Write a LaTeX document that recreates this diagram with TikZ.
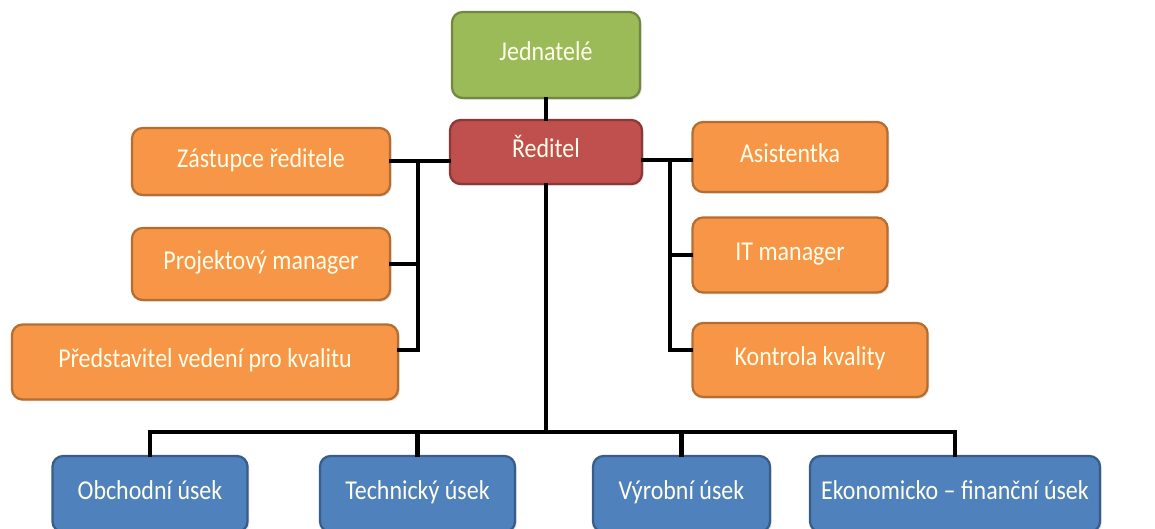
\documentclass[tikz,border=0pt]{standalone}
\usepackage{fontspec}
\setmainfont{Carlito}[FakeStretch=0.88]
\usetikzlibrary{shadows}
\definecolor{zelena}{HTML}{9BBB59}
\definecolor{zelenaokraj}{HTML}{71893F}
\definecolor{cervena}{HTML}{C0504D}
\definecolor{cervenaokraj}{HTML}{8C3836}
\definecolor{oranzova}{HTML}{F79646}
\definecolor{oranzovaokraj}{HTML}{B66D31}
\definecolor{modra}{HTML}{4F81BD}
\definecolor{modraokraj}{HTML}{385D8A}
\tikzset{
  box/.style={rounded corners=6pt, line width=1.3pt, text=white!92!yellow,
    font=\fontsize{15.5}{18}\selectfont, inner sep=2pt, text height=2ex, text depth=0.6ex,
    drop shadow={opacity=0.2, shadow xshift=1pt, shadow yshift=-1pt}},
  vedeni/.style={box, fill=zelena, draw=zelenaokraj},
  reditel/.style={box, fill=cervena, draw=cervenaokraj},
  stab/.style={box, fill=oranzova, draw=oranzovaokraj},
  usek/.style={box, fill=modra, draw=modraokraj},
  link/.style={line width=2.4pt, line cap=rect}
}
\begin{document}
\begin{tikzpicture}
    \useasboundingbox (0,0) rectangle (23.1,-10.56);

    \node[vedeni, minimum width=3.76cm, minimum height=1.72cm] (jed) at (10.92,-1.10) {Jednatelé};
    \node[reditel, minimum width=3.84cm, minimum height=1.28cm] (red) at (10.92,-3.04) {Ředitel};

    % stab vlevo
    \node[stab, minimum width=5.16cm, minimum height=1.34cm] (zast) at (5.22,-3.23) {Zástupce ředitele};
    \node[stab, minimum width=5.16cm, minimum height=1.44cm] (proj) at (5.22,-5.28) {Projektový manager};
    \node[stab, minimum width=7.72cm, minimum height=1.50cm] (pred) at (4.10,-7.24) {Představitel vedení pro kvalitu};

    % stab vpravo
    \node[stab, minimum width=3.90cm, minimum height=1.40cm] (asis) at (15.80,-3.14) {Asistentka};
    \node[stab, minimum width=3.90cm, minimum height=1.50cm] (itm) at (15.80,-5.10) {IT manager};
    \node[stab, minimum width=4.70cm, minimum height=1.48cm] (kont) at (16.20,-7.20) {Kontrola kvality};

    % useky
    \node[usek, minimum width=3.90cm, minimum height=1.52cm] (obch) at (3.00,-9.88) {Obchodní úsek};
    \node[usek, minimum width=3.90cm, minimum height=1.52cm] (tech) at (8.35,-9.88) {Technický úsek};
    \node[usek, minimum width=3.54cm, minimum height=1.52cm] (vyro) at (13.63,-9.88) {Výrobní úsek};
    \node[usek, minimum width=5.80cm, minimum height=1.52cm] (ekon) at (19.10,-9.88) {Ekonomicko -- finanční úsek};

    \coordinate (lbus) at (8.36,-7.00);
    \coordinate (rbus) at (13.40,-7.00);
    \coordinate (bus) at (10.92,-8.64);

    \draw[link] (jed) -- (red); % jednatele - reditel
    \draw[link] (red.west |- 0,-3.22) -- (zast.east |- 0,-3.22);
    \draw[link] (lbus |- 0,-3.22) -- (lbus) -- (pred.east |- lbus);
    \draw[link] (proj.east) -- (proj.east -| lbus);
    \draw[link] (red.east |- 0,-3.20) -- (asis.west |- 0,-3.20);
    \draw[link] (rbus |- 0,-3.20) -- (rbus) -- (kont.west |- rbus);
    \draw[link] (itm.west) -- (itm.west -| rbus);

    % hlavni vetev
    \draw[link] (red.south) -- (bus);
    \draw[link] (obch.north |- bus) -- (ekon.north |- bus);
    \foreach \n in {obch,tech,vyro,ekon}
        \draw[link] (\n.north |- bus) -- (\n.north);
\end{tikzpicture}
\end{document}
